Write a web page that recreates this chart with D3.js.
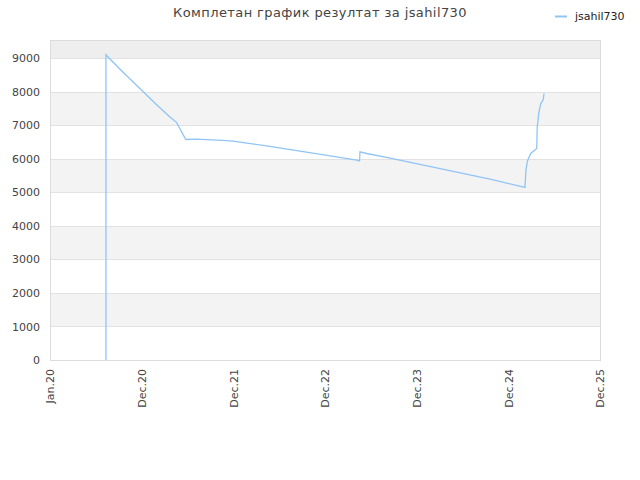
<!DOCTYPE html>
<html>
<head>
<meta charset="utf-8">
<script src="https://cdn.jsdelivr.net/npm/d3@7"></script>
<style>
  body{margin:0;background:#fff;}
  text{font-family:"DejaVu Sans",sans-serif;}
</style>
</head>
<body>
<div id="chart"></div>
<script>
var player='jsahil730';
var titleText='Комплетан график резултат за '+player;
var lineColor='#90c4f5';

// dates and ratings
var dates=['2020-08-11','2020-08-11','2020-10-17','2021-03-06','2021-04-23','2021-05-19','2021-06-25',
  '2021-08-07','2021-11-15','2021-12-31','2022-02-23','2022-05-13','2023-01-21','2023-05-07',
  '2023-05-18','2023-05-20','2023-06-16','2023-09-17','2024-10-19','2025-03-07','2025-03-11',
  '2025-03-17','2025-03-30','2025-04-23','2025-04-25','2025-05-02','2025-05-09','2025-05-19','2025-05-22'];
var ratings=[0,9100,8593,7580,7252,7090,6578,
  6590,6550,6530,6468,6388,6087,5961,
  5940,6209,6160,6020,5395,5146,5663,
  5940,6160,6309,6954,7401,7650,7770,7949];
var yTicks=[0,1000,2000,3000,4000,5000,6000,7000,8000,9000];
var bandStarts=[1000,3000,5000,7000,9000];
var xStart='2020-01-01', xEnd='2025-12-31';
var yMax=9546;

var width=640, height=480;
var plotLeft=50, plotRight=600, plotTop=40, plotBottom=360;
var parse=d3.timeParse('%Y-%m-%d');

var svg=d3.select('#chart').append('svg')
  .attr('width',width).attr('height',height);

var x=d3.scaleTime().domain([parse(xStart),parse(xEnd)]).range([plotLeft,plotRight]);
var y=d3.scaleLinear().domain([0,yMax]).range([plotBottom,plotTop]);

// striped bands
svg.selectAll('rect.band').data(bandStarts).enter().append('rect')
  .attr('class','band')
  .attr('x',plotLeft).attr('width',plotRight-plotLeft)
  .attr('y',function(d){return y(Math.min(d+1000,yMax));})
  .attr('height',function(d){return y(d)-y(Math.min(d+1000,yMax));})
  .attr('fill',function(d){return d==9000?'#eeeeee':'#f3f3f3';});

// grid lines
svg.selectAll('line.grid').data(yTicks.slice(1)).enter().append('line')
  .attr('class','grid')
  .attr('x1',plotLeft).attr('x2',plotRight)
  .attr('y1',function(d){return Math.round(y(d))+0.5;})
  .attr('y2',function(d){return Math.round(y(d))+0.5;})
  .attr('stroke','#e2e2e2');

svg.append('rect')
  .attr('x',plotLeft+0.5).attr('y',plotTop+0.5)
  .attr('width',plotRight-plotLeft).attr('height',plotBottom-plotTop)
  .attr('fill','none').attr('stroke','#dcdcdc');

// y axis
var yAxis=d3.axisLeft(y).tickValues(yTicks).tickSize(0).tickPadding(10).tickFormat(d3.format('d'));
var gy=svg.append('g').attr('transform','translate('+plotLeft+',0)').call(yAxis);
gy.select('.domain').remove();
gy.selectAll('text').attr('fill','#444').style('font-size','11px');

// x axis: 6 equal steps over the domain
var t0=parse(xStart).getTime(), t1=parse(xEnd).getTime();
var xTicks=d3.range(7).map(function(i){return new Date(t0+i*(t1-t0)/6);});
var fmt=d3.timeFormat('%b.%y');
var xAxis=d3.axisBottom(x).tickValues(xTicks).tickFormat(fmt).tickSize(0);
var gx=svg.append('g').attr('transform','translate(0,'+plotBottom+')').call(xAxis);
gx.select('.domain').remove();
gx.selectAll('text')
  .attr('fill','#444').style('font-size','11px')
  .attr('text-anchor','end')
  .attr('transform','rotate(-90)')
  .attr('x',-9).attr('y',0).attr('dy','0.35em');

// line
var pts=dates.map(function(d,i){return {date:parse(d),value:ratings[i]};});
var line=d3.line().x(function(d){return x(d.date);}).y(function(d){return y(d.value);});
svg.append('path').datum(pts)
  .attr('d',line)
  .attr('fill','none')
  .attr('stroke',lineColor)
  .attr('stroke-width',1.3);

// title
svg.append('text')
  .attr('x',320).attr('y',17)
  .attr('text-anchor','middle')
  .attr('fill','#444')
  .style('font-size','13px')
  .style('letter-spacing','0.4px')
  .text(titleText);

// legend
svg.append('line')
  .attr('x1',555).attr('x2',567).attr('y1',16.5).attr('y2',16.5)
  .attr('stroke',lineColor).attr('stroke-width',2);
svg.append('text')
  .attr('x',575).attr('y',20)
  .attr('fill','#222')
  .style('font-size','11px')
  .text(player);
</script>
</body>
</html>
